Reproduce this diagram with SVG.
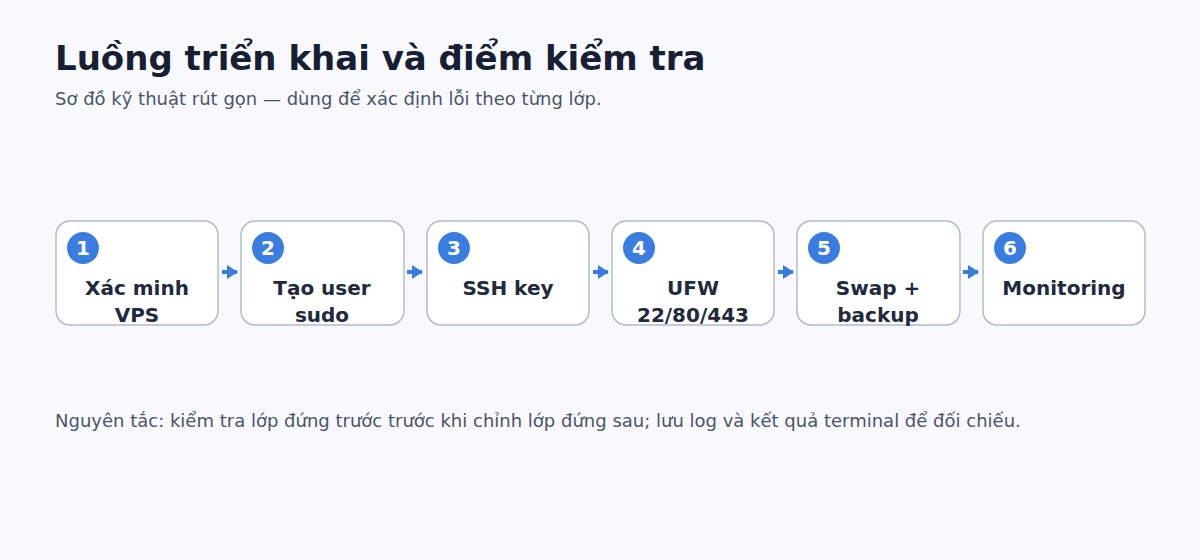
<svg xmlns="http://www.w3.org/2000/svg" width="1200" height="560" viewBox="0 0 1200 560">
<style>
.title{font-family:"DejaVu Sans",sans-serif;font-weight:bold;font-size:34px;fill:#172033}
.sub{font-family:"DejaVu Sans",sans-serif;font-size:18px;fill:#4b5568}
.box{fill:#ffffff;stroke:#b0bccd;stroke-width:1.5}
.badge{fill:#3a7de0}
.num{font-family:"DejaVu Sans",sans-serif;font-weight:bold;font-size:20px;fill:#ffffff;text-anchor:middle}
.lbl{font-family:"DejaVu Sans",sans-serif;font-weight:bold;font-size:20px;fill:#1f2a3d;text-anchor:middle}
.conn{stroke:#3a7de0;stroke-width:4;fill:none}
</style>
<defs>
<marker id="ah" viewBox="0 0 11 14" refX="10" refY="7" markerWidth="11" markerHeight="14" orient="auto" markerUnits="userSpaceOnUse">
<path d="M0,0 L11,7 L0,14 Z" fill="#3a7de0"/>
</marker>
</defs>
<rect width="1200" height="560" fill="#f7f9fd"/>
<text class="title" x="55" y="70">Luồng triển khai và điểm kiểm tra</text>
<text class="sub" x="55" y="105">Sơ đồ kỹ thuật rút gọn — dùng để xác định lỗi theo từng lớp.</text>

<g id="connectors">
<line class="conn" x1="222" y1="272" x2="237" y2="272" marker-end="url(#ah)"/>
<line class="conn" x1="407" y1="272" x2="422" y2="272" marker-end="url(#ah)"/>
<line class="conn" x1="593" y1="272" x2="608" y2="272" marker-end="url(#ah)"/>
<line class="conn" x1="778" y1="272" x2="793" y2="272" marker-end="url(#ah)"/>
<line class="conn" x1="963" y1="272" x2="978" y2="272" marker-end="url(#ah)"/>
</g>

<g id="node1">
<rect class="box" x="56" y="221" width="162" height="104" rx="14"/>
<circle class="badge" cx="83" cy="248" r="16"/>
<text class="num" x="83" y="255">1</text>
<text class="lbl" x="137" y="295">Xác minh</text>
<text class="lbl" x="137" y="322">VPS</text>
</g>
<g id="node2">
<rect class="box" x="241" y="221" width="163" height="104" rx="14"/>
<circle class="badge" cx="268" cy="248" r="16"/>
<text class="num" x="268" y="255">2</text>
<text class="lbl" x="322" y="295">Tạo user</text>
<text class="lbl" x="322" y="322">sudo</text>
</g>
<g id="node3">
<rect class="box" x="427" y="221" width="162" height="104" rx="14"/>
<circle class="badge" cx="454" cy="248" r="16"/>
<text class="num" x="454" y="255">3</text>
<text class="lbl" x="508" y="295">SSH key</text>
</g>
<g id="node4">
<rect class="box" x="612" y="221" width="162" height="104" rx="14"/>
<circle class="badge" cx="639" cy="248" r="16"/>
<text class="num" x="639" y="255">4</text>
<text class="lbl" x="693" y="295">UFW</text>
<text class="lbl" x="693" y="322">22/80/443</text>
</g>
<g id="node5">
<rect class="box" x="797" y="221" width="163" height="104" rx="14"/>
<circle class="badge" cx="824" cy="248" r="16"/>
<text class="num" x="824" y="255">5</text>
<text class="lbl" x="878" y="295">Swap +</text>
<text class="lbl" x="878" y="322">backup</text>
</g>
<g id="node6">
<rect class="box" x="983" y="221" width="162" height="104" rx="14"/>
<circle class="badge" cx="1010" cy="248" r="16"/>
<text class="num" x="1010" y="255">6</text>
<text class="lbl" x="1064" y="295">Monitoring</text>
</g>

<text class="sub" x="55" y="427">Nguyên tắc: kiểm tra lớp đứng trước trước khi chỉnh lớp đứng sau; lưu log và kết quả terminal để đối chiếu.</text>
</svg>
